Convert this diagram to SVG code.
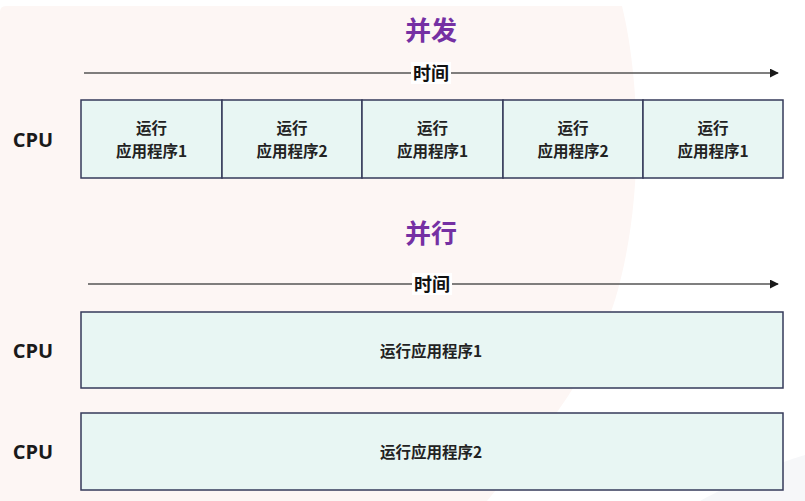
<svg xmlns="http://www.w3.org/2000/svg" width="805" height="501" viewBox="0 0 805 501">
<defs>
<marker id="arr" viewBox="0 0 10 10" refX="9" refY="5" markerWidth="9" markerHeight="9" markerUnits="userSpaceOnUse" orient="auto"><path d="M0,0 L10,5 L0,10 z" fill="#1a1a1a"/></marker>
<style>
.cell{fill:#e8f6f3;stroke:#353a5a;stroke-width:1.5}
.t{font-family:"Noto Sans CJK SC",sans-serif;font-weight:bold;font-size:15.5px;fill:#222;text-anchor:middle}
.cpu{font-family:"Open Sans","Noto Sans",sans-serif;font-weight:bold;font-size:20px;fill:#1a1a1a;text-anchor:middle}
.title{font-family:"Noto Sans CJK SC",sans-serif;font-weight:bold;font-size:26px;fill:#7530a3;text-anchor:middle}
.axis{stroke:#555;stroke-width:1.5;fill:none}
.time{font-family:"Noto Sans CJK SC",sans-serif;font-weight:bold;font-size:18px;fill:#111;text-anchor:middle}
</style>
</defs>
<rect width="805" height="501" fill="#ffffff"/>
<path d="M6,6 L622,6 C640,80 645,200 615,300 C590,380 530,450 487,501 L0,501 L0,12 Q0,6 6,6 z" fill="#fdf6f4"/>
<path d="M805,455 L805,501 L700,501 C730,485 770,465 805,455 z" fill="#f6f7f9"/>

<g id="title-concurrent"><text class="title" x="431" y="40">并发</text></g>
<g id="title-parallel"><text class="title" x="431" y="243">并行</text></g>

<g id="connectors">
<line class="axis" x1="84" y1="73" x2="778" y2="73" marker-end="url(#arr)"/>
<line class="axis" x1="88" y1="284" x2="778" y2="284" marker-end="url(#arr)"/>
</g>

<g id="time1"><rect x="411" y="62" width="40" height="22" fill="#fff"/><text class="time" x="431" y="80">时间</text></g>
<g id="time2"><rect x="412" y="273" width="40" height="22" fill="#fff"/><text class="time" x="432" y="291">时间</text></g>

<g id="cpu1"><text class="cpu" x="33" y="147">CPU</text></g>
<g id="cpu2"><text class="cpu" x="33" y="358">CPU</text></g>
<g id="cpu3"><text class="cpu" x="33" y="459">CPU</text></g>

<g id="c1"><rect class="cell" x="81" y="100" width="141" height="78"/><text class="t" x="151.5" y="134">运行</text><text class="t" x="151.5" y="157">应用程序1</text></g>
<g id="c2"><rect class="cell" x="222" y="100" width="140" height="78"/><text class="t" x="292" y="134">运行</text><text class="t" x="292" y="157">应用程序2</text></g>
<g id="c3"><rect class="cell" x="362" y="100" width="141" height="78"/><text class="t" x="432.5" y="134">运行</text><text class="t" x="432.5" y="157">应用程序1</text></g>
<g id="c4"><rect class="cell" x="503" y="100" width="140" height="78"/><text class="t" x="573" y="134">运行</text><text class="t" x="573" y="157">应用程序2</text></g>
<g id="c5"><rect class="cell" x="643" y="100" width="140" height="78"/><text class="t" x="713" y="134">运行</text><text class="t" x="713" y="157">应用程序1</text></g>

<g id="p1"><rect class="cell" x="81" y="312" width="702" height="76"/><text class="t" x="431" y="357">运行应用程序1</text></g>
<g id="p2"><rect class="cell" x="81" y="413" width="702" height="77"/><text class="t" x="431" y="458">运行应用程序2</text></g>
</svg>
